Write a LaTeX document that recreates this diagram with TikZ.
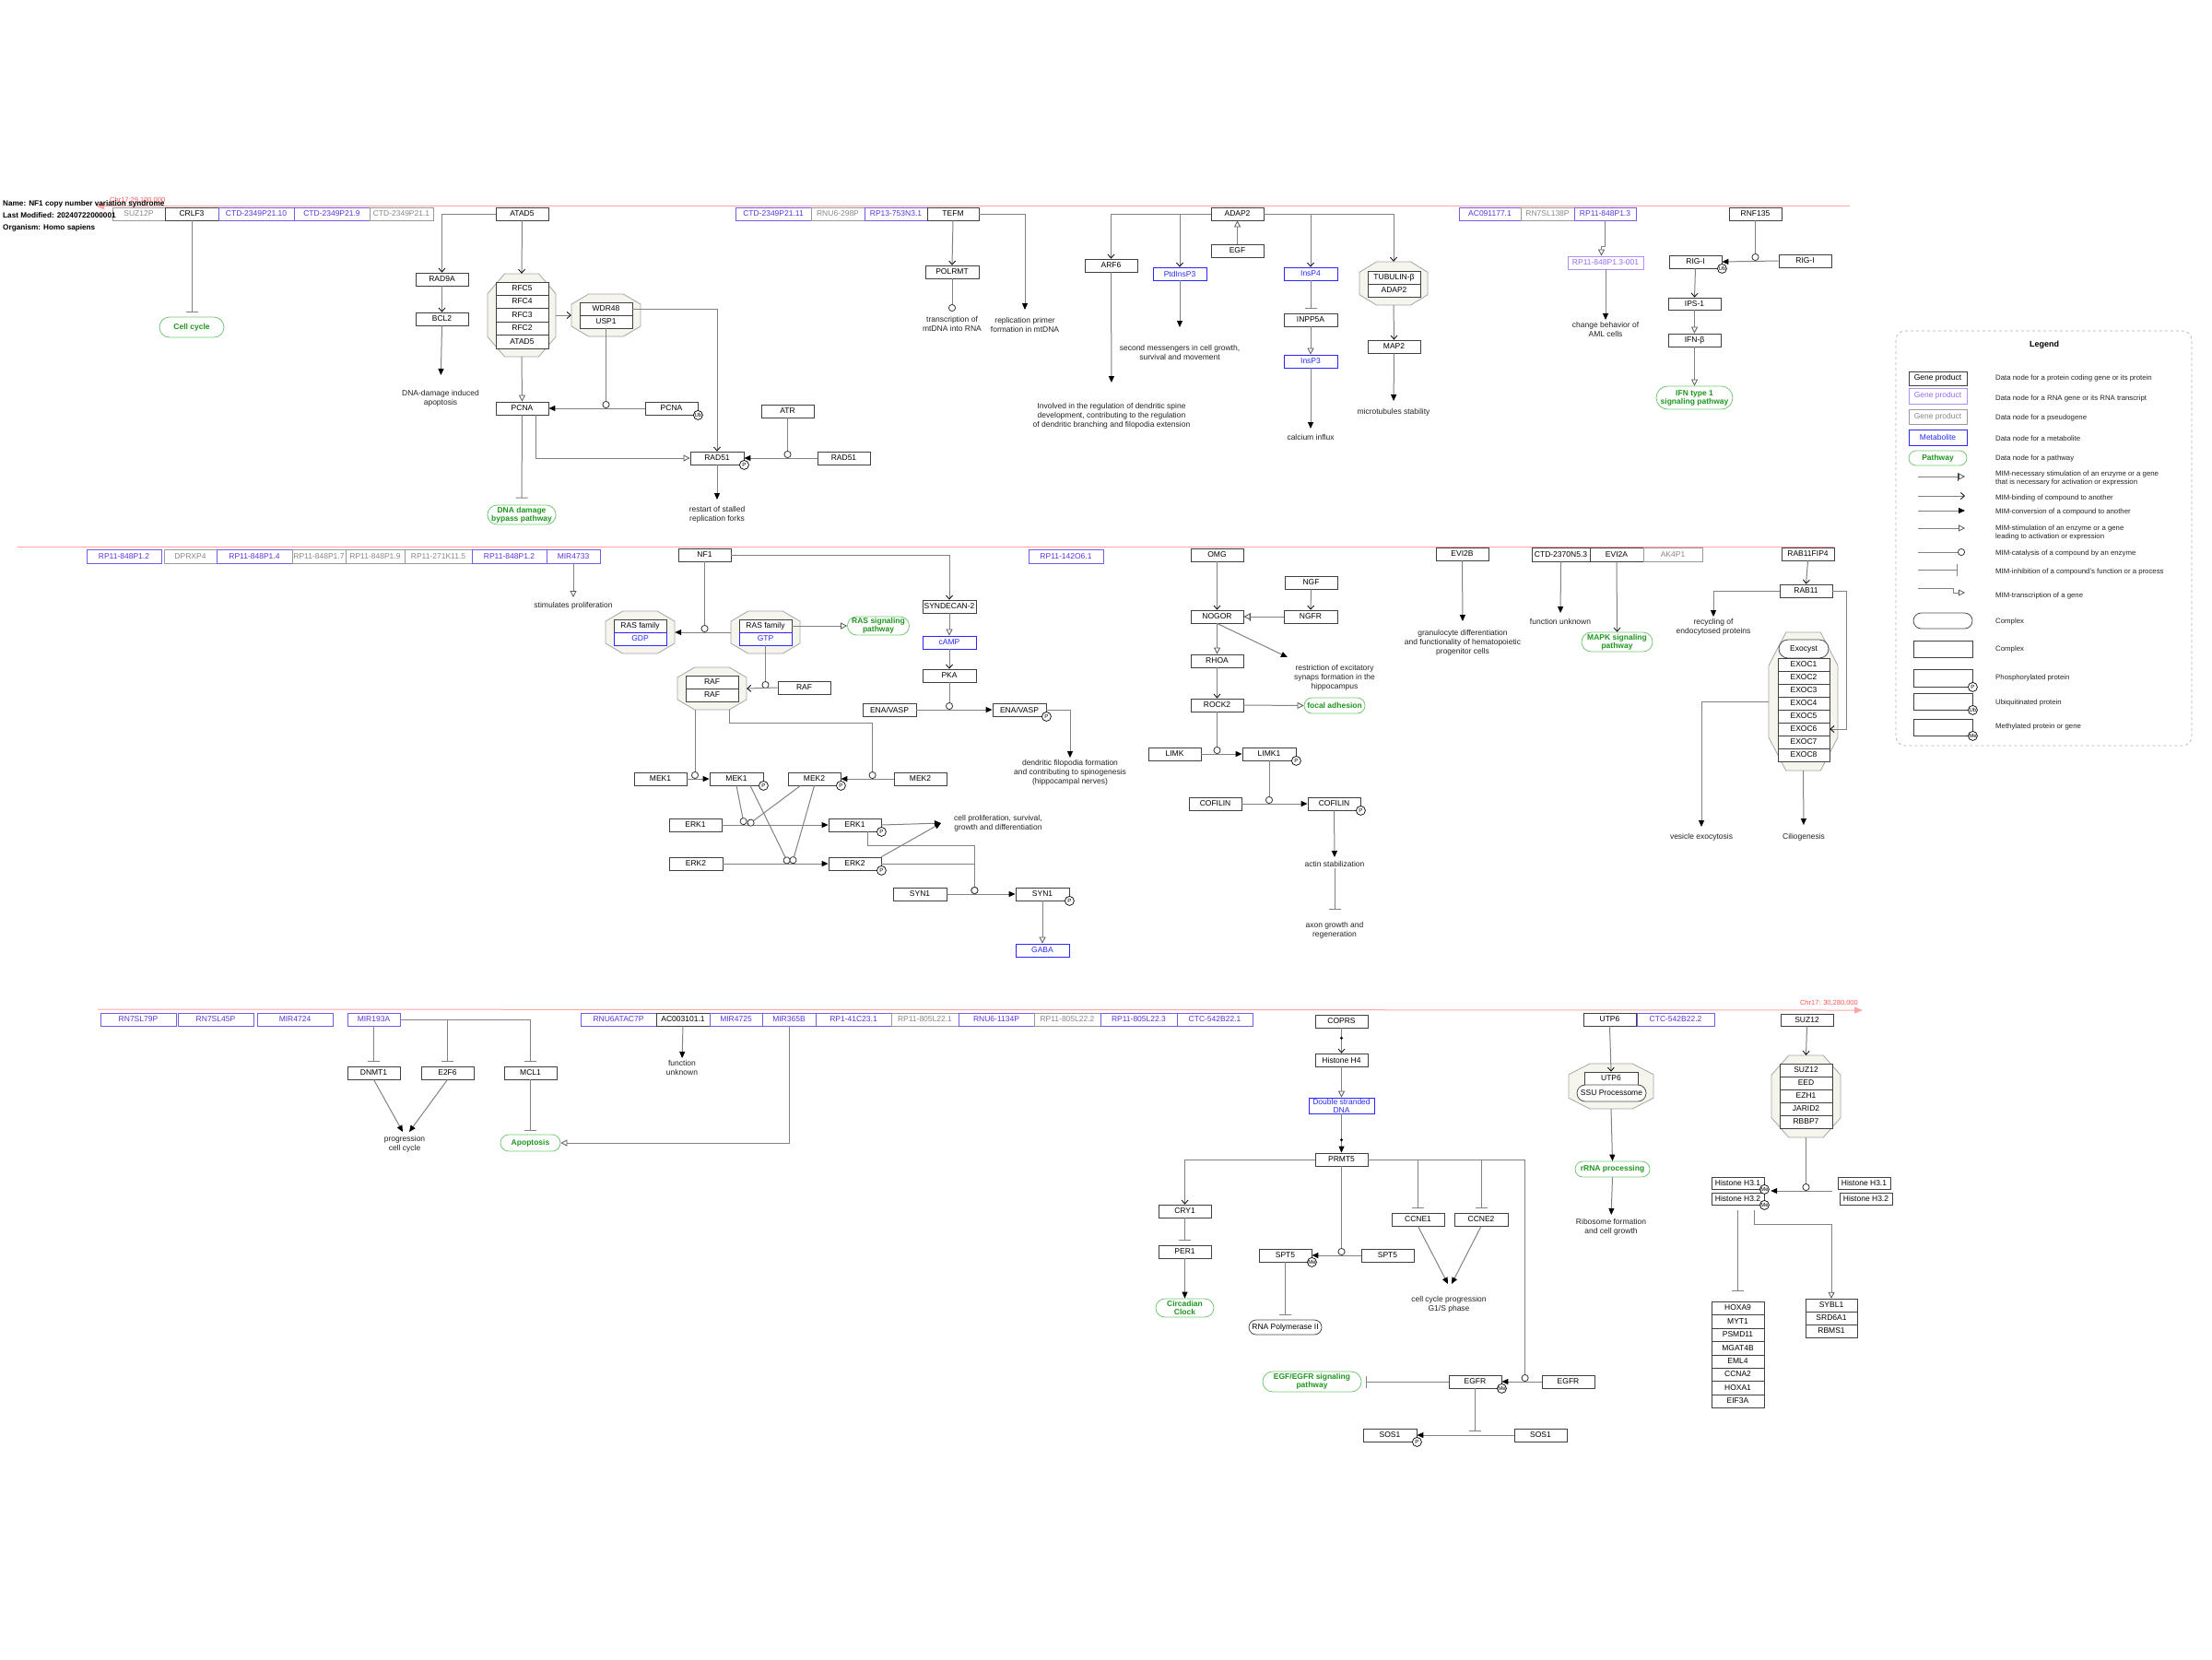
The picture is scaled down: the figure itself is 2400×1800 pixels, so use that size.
\documentclass[tikz,border=0pt]{standalone}
\usepackage{fontspec}
\setmainfont{Liberation Sans}
\usetikzlibrary{arrows.meta,shapes.misc,calc}
\definecolor{linec}{RGB}{130,130,130}
\definecolor{rnac}{RGB}{90,50,225}
\definecolor{rnab}{RGB}{120,90,235}
\definecolor{rnalc}{RGB}{150,105,250}
\definecolor{pseuc}{RGB}{135,135,135}
\definecolor{metc}{RGB}{40,40,255}
\definecolor{pwb}{RGB}{115,200,115}
\definecolor{pwt}{RGB}{30,150,30}
\definecolor{cpxf}{RGB}{245,245,238}
\definecolor{cpxb}{RGB}{165,165,165}
\definecolor{chrc}{RGB}{255,165,165}
\definecolor{chrt}{RGB}{255,85,85}
\definecolor{txc}{RGB}{35,35,35}
\newcommand\fnode{\fontsize{8.5pt}{9pt}\selectfont}
\newcommand\ftext{\fontsize{8.5pt}{10pt}\selectfont}
\newcommand\fpw{\fontsize{8.5pt}{9pt}\selectfont\bfseries}
\newcommand\fmod{\fontsize{6pt}{6pt}\selectfont}
\newcommand\fleg{\fontsize{7.8pt}{9pt}\selectfont}
\newcommand\ftitle{\fontsize{8.2pt}{9pt}\selectfont\bfseries}
\newcommand\fchr{\fontsize{7.5pt}{8pt}\selectfont}
\newcommand\bx[7]{\node[#6,minimum width={(#4-#2)*1pt},minimum height={(#5-#3)*1pt}] (#1) at ({(#2+#4)/2},{(#3+#5)/2}) {#7};}
\newcommand\oct[5]{%
 \pgfmathsetmacro\octx{0.25*(#4-#2)}%
 \pgfmathsetmacro\octy{0.24*(#5-#3)}%
 \draw[cpx] ({#2+\octx},#3) -- ({#4-\octx},#3) -- (#4,{#3+\octy}) -- (#4,{#5-\octy}) -- ({#4-\octx},#5) -- ({#2+\octx},#5) -- (#2,{#5-\octy}) -- (#2,{#3+\octy}) -- cycle;
 \node[inner sep=0pt,minimum width={(#4-#2)*1pt},minimum height={(#5-#3)*1pt}] (#1) at ({(#2+#4)/2},{(#3+#5)/2}) {};}
\newcommand\tx[4]{\node[txt] (#1) at (#2,#3) {#4};}
\newcommand\md[3]{\node[modc] (#1) at (#2) {#3};}
\begin{document}
\begin{tikzpicture}[x=1pt,y=-1pt,
 base/.style={rectangle,inner sep=0pt,font=\fnode,line width=0.8pt,align=center},
 gp/.style={base,draw=black!75,fill=white,text=black},
 rna/.style={base,draw=rnab,fill=white,text=rnac},
 rnal/.style={base,draw=rnalc!75,fill=white,text=rnalc},
 pseu/.style={base,draw=pseuc!85,fill=white,text=pseuc},
 met/.style={base,draw=metc,fill=white,text=metc},
 grp/.style={inner sep=0pt},
 pw/.style={rounded rectangle,inner sep=0pt,draw=pwb,fill=white,text=pwt,font=\fpw,align=center,line width=0.8pt},
 cst/.style={rounded rectangle,inner sep=0pt,draw=black!70,fill=white,font=\fnode,line width=0.8pt},
 cpx/.style={draw=cpxb,fill=cpxf,line width=0.8pt},
 txt/.style={inner sep=0pt,font=\ftext,align=center,text=txc,anchor=north},
 lt/.style={inner sep=0pt,font=\fleg,align=left,text=txc,anchor=west},
 ln/.style={draw=linec,line width=1pt},
 conv/.style={ln,-{Triangle[length=7pt,width=6pt,color=black]}},
 bind/.style={ln,-{Straight Barb[length=4pt,width=7pt,color=black,line width=0.8pt]}},
 stim/.style={ln,-{Triangle[length=7pt,width=7pt,color=black!65,fill=white,line width=0.8pt]}},
 cat/.style={ln,-{Circle[length=8pt,width=8pt,color=black!80,fill=white,line width=0.8pt]}},
 inh/.style={ln,-{Bar[width=13pt,color=linec,line width=1pt]}},
 nec/.style={ln,-{Bar[width=9pt,color=black!70,line width=0.8pt] Triangle[length=7pt,width=7pt,color=black!70,fill=white,line width=0.8pt]}},
 modc/.style={circle,draw=black,fill=white,inner sep=0pt,minimum size=10pt,font=\fmod,line width=0.7pt}]
\fill[white] (0,0) rectangle (2400,1800);
\useasboundingbox (0,0) rectangle (2400,1800);
% chromosome lines
\draw[chrc,line width=1pt] (111,223) -- (2007,223);
\fill[chrc] (104,223.5) -- (113,219.5) -- (113,227.5) -- cycle;
\draw[chrc,line width=1pt] (19,593.5) -- (1990,593.5);
\draw[chrc,line width=1pt,-{Triangle[length=9pt,width=7pt]}] (106,1095) -- (2021,1096);
\node[anchor=west,font=\fchr,text=chrt,inner sep=0pt] (chrA) at (119,217) {Chr17:29,100,000};
\node[anchor=east,font=\fchr,text=chrt,inner sep=0pt] (chrB) at (2016,1088) {Chr17: 30,280,000};
% ===== top row
\bx{tSUZ12P}{122}{225}{179}{239}{pseu}{SUZ12P}
\bx{tCRLF3}{179}{225}{237}{239}{gp}{CRLF3}
\bx{tCTDa}{237}{225}{319}{239}{rna}{CTD-2349P21.10}
\bx{tCTDb}{319}{225}{401}{239}{rna}{CTD-2349P21.9}
\bx{tCTDc}{401}{225}{470}{239}{pseu}{CTD-2349P21.1}
\bx{tATAD5}{538}{225}{595}{239}{gp}{ATAD5}
\bx{tCTDd}{798}{225}{880}{239}{rna}{CTD-2349P21.11}
\bx{tRNU6}{880}{225}{938}{239}{pseu}{RNU6-298P}
\bx{tRP13}{938}{225}{1006}{239}{rna}{RP13-753N3.1}
\bx{tTEFM}{1006}{225}{1062}{239}{gp}{TEFM}
\bx{tADAP2}{1314}{225}{1371}{239}{gp}{ADAP2}
\bx{tAC09}{1583}{225}{1650}{239}{rna}{AC091177.1}
\bx{tRN7SL}{1650}{225}{1708}{239}{pseu}{RN7SL138P}
\bx{tRP11}{1708}{225}{1775}{239}{rna}{RP11-848P1.3}
\bx{RNF135}{1876}{225}{1933}{239}{gp}{RNF135}
% top section
\oct{cRFC}{529}{297}{603}{387}
\bx{RFC5}{538}{306}{595}{320}{gp}{RFC5}
\bx{RFC4}{538}{320}{595}{334}{gp}{RFC4}
\bx{RFC3}{538}{334}{595}{349}{gp}{RFC3}
\bx{RFC2}{538}{349}{595}{363}{gp}{RFC2}
\bx{ATADb}{538}{363}{595}{378}{gp}{ATAD5}
\oct{cWDR}{620}{319}{695}{365}
\bx{WDR48}{629}{328}{686}{342}{gp}{WDR48}
\bx{USP1}{629}{342}{686}{356}{gp}{USP1}
\bx{RAD9A}{451}{296}{508}{310}{gp}{RAD9A}
\bx{BCL2}{451}{339}{508}{353}{gp}{BCL2}
\bx{PCNA}{538}{436}{595}{450}{gp}{PCNA}
\bx{PCNAub}{700}{436}{757}{450}{gp}{PCNA}
\bx{ATR}{826}{439}{883}{453}{gp}{ATR}
\bx{RADa}{749}{490}{807}{504}{gp}{RAD51}
\bx{RADb}{887}{490}{944}{504}{gp}{RAD51}
\bx{POLRMT}{1004}{288}{1062}{302}{gp}{POLRMT}
\bx{ARF6}{1177}{281}{1234}{295}{gp}{ARF6}
\bx{PtdInsP3}{1251}{290}{1309}{304}{met}{PtdInsP3}
\bx{EGF}{1314}{265}{1371}{279}{gp}{EGF}
\bx{InsPa}{1393}{290}{1451}{304}{met}{InsP4}
\bx{INPP5A}{1393}{340}{1451}{354}{gp}{INPP5A}
\bx{InsPb}{1393}{385}{1451}{399}{met}{InsP3}
\oct{cTUB}{1475}{284}{1549}{331}
\bx{TUB}{1484}{294}{1541}{308}{gp}{TUBULIN-β}
\bx{ADAPb}{1484}{308}{1541}{322}{gp}{ADAP2}
\bx{MAP2}{1484}{369}{1541}{383}{gp}{MAP2}
\bx{RP11s}{1701}{278}{1783}{292}{rnal}{RP11-848P1.3-001}
\bx{RIGa}{1811}{277}{1868}{291}{gp}{RIG-I}
\bx{RIGb}{1930}{276}{1987}{290}{gp}{RIG-I}
\bx{IPS}{1810}{323}{1867}{336}{gp}{IPS-1}
\bx{IFNb}{1810}{362}{1867}{376}{gp}{IFN-β}
\bx{pwIFN}{1797}{419}{1880}{444}{pw}{IFN type 1\\signaling pathway}
\bx{pwCell}{173}{344}{243}{366}{pw}{Cell cycle}
\bx{pwDNA}{530}{548}{602}{569}{pw}{DNA damage\\bypass pathway}
\tx{xApop}{478}{423}{DNA-damage induced\\apoptosis}
\tx{xRestart}{778}{549}{restart of stalled\\replication forks}
\tx{xTrans}{1033}{343}{transcription of\\mtDNA into RNA}
\tx{xRepl}{1112}{344}{replication primer\\formation in mtDNA}
\tx{xInv}{1206}{437}{Involved in the regulation of dendritic spine\\development, contributing to the regulation\\of dendritic branching and filopodia extension}
\tx{xSecond}{1280}{374}{second messengers in cell growth,\\survival and movement}
\tx{xCalc}{1422}{471}{calcium influx}
\tx{xMicro}{1512}{443}{microtubules stability}
\tx{xAML}{1742}{349}{change behavior of\\AML cells}
% ===== middle row
\bx{mRPa}{94}{596}{175}{611}{rna}{RP11-848P1.2}
\bx{mDPR}{178}{596}{235}{611}{pseu}{DPRXP4}
\bx{mRPb}{235}{596}{317}{611}{rna}{RP11-848P1.4}
\bx{mRPc}{317}{596}{375}{611}{pseu}{RP11-848P1.7}
\bx{mRPd}{375}{596}{439}{611}{pseu}{RP11-848P1.9}
\bx{mRPe}{439}{596}{512}{611}{pseu}{RP11-271K11.5}
\bx{mRPf}{512}{596}{593}{611}{rna}{RP11-848P1.2}
\bx{MIR4733}{593}{596}{651}{611}{rna}{MIR4733}
\bx{NF1}{736}{595}{793}{609}{gp}{NF1}
\bx{mRPg}{1116}{596}{1197}{611}{rna}{RP11-142O6.1}
\bx{OMG}{1292}{595}{1349}{609}{gp}{OMG}
\bx{EVI2B}{1558}{594}{1615}{608}{gp}{EVI2B}
\bx{CTDe}{1662}{594}{1725}{609}{gp}{CTD-2370N5.3}
\bx{EVI2A}{1725}{594}{1783}{609}{gp}{EVI2A}
\bx{AK4P1}{1783}{594}{1847}{609}{pseu}{AK4P1}
\bx{RABFIP}{1933}{594}{1990}{608}{gp}{RAB11FIP4}
% middle section
\oct{cGDP}{657}{663}{732}{709}
\bx{RASf1}{666}{672}{723}{686}{gp}{RAS family}
\bx{GDP}{666}{686}{723}{700}{met}{GDP}
\oct{cGTP}{793}{663}{868}{709}
\bx{RASf2}{802}{672}{859}{686}{gp}{RAS family}
\bx{GTP}{802}{686}{859}{700}{met}{GTP}
\bx{pwRAS}{921}{669}{985}{689}{pw}{RAS signaling\\pathway}
\oct{cRAF}{735}{724}{810}{770}
\bx{RAF1}{744}{733}{801}{747}{gp}{RAF}
\bx{RAF2}{744}{747}{801}{761}{gp}{RAF}
\bx{RAFb}{844}{739}{901}{753}{gp}{RAF}
\bx{SYND}{1001}{651}{1059}{665}{gp}{SYNDECAN-2}
\bx{cAMP}{1001}{690}{1059}{704}{met}{cAMP}
\bx{PKA}{1001}{726}{1059}{740}{gp}{PKA}
\bx{ENAa}{936}{763}{994}{777}{gp}{ENA/VASP}
\bx{ENAP}{1077}{763}{1135}{777}{gp}{ENA/VASP}
\bx{MEKa}{688}{838}{745}{852}{gp}{MEK1}
\bx{MEKaP}{770}{838}{828}{852}{gp}{MEK1}
\bx{MEKbP}{855}{838}{912}{852}{gp}{MEK2}
\bx{MEKb}{970}{838}{1027}{852}{gp}{MEK2}
\bx{ERKa}{726}{888}{783}{902}{gp}{ERK1}
\bx{ERKaP}{899}{888}{956}{902}{gp}{ERK1}
\bx{ERKb}{726}{930}{784}{944}{gp}{ERK2}
\bx{ERKbP}{899}{930}{956}{944}{gp}{ERK2}
\bx{SYNa}{969}{963}{1027}{977}{gp}{SYN1}
\bx{SYNP}{1102}{963}{1160}{977}{gp}{SYN1}
\bx{GABA}{1102}{1024}{1160}{1038}{met}{GABA}
\bx{NGF}{1394}{625}{1451}{639}{gp}{NGF}
\bx{NGFR}{1393}{662}{1451}{676}{gp}{NGFR}
\bx{NOGOR}{1292}{662}{1349}{676}{gp}{NOGOR}
\bx{RHOA}{1292}{710}{1349}{724}{gp}{RHOA}
\bx{ROCK2}{1292}{758}{1349}{772}{gp}{ROCK2}
\bx{pwFocal}{1415}{757}{1481}{774}{pw}{focal adhesion}
\bx{LIMK}{1246}{811}{1303}{825}{gp}{LIMK}
\bx{LIMKP}{1348}{811}{1406}{825}{gp}{LIMK1}
\bx{COFa}{1290}{865}{1347}{879}{gp}{COFILIN}
\bx{COFP}{1419}{865}{1476}{879}{gp}{COFILIN}
\bx{pwMAPK}{1716}{686}{1793}{707}{pw}{MAPK signaling\\pathway}
\bx{RAB11}{1931}{634}{1988}{648}{gp}{RAB11}
\oct{cEXO}{1919}{686}{1994}{836}
\bx{Exocyst}{1930}{694}{1984}{714}{cst}{Exocyst}
\bx{EXOCa}{1929}{714}{1985}{728}{gp}{EXOC1}
\bx{EXOCb}{1929}{728}{1985}{742}{gp}{EXOC2}
\bx{EXOCc}{1929}{742}{1985}{756}{gp}{EXOC3}
\bx{EXOCd}{1929}{756}{1985}{770}{gp}{EXOC4}
\bx{EXOCe}{1929}{770}{1985}{784}{gp}{EXOC5}
\bx{EXOCf}{1929}{784}{1985}{798}{gp}{EXOC6}
\bx{EXOCg}{1929}{798}{1985}{812}{gp}{EXOC7}
\bx{EXOCh}{1929}{812}{1985}{826}{gp}{EXOC8}
\tx{xStim}{622}{653}{stimulates proliferation}
\tx{xDend}{1161}{824}{dendritic filopodia formation\\and contributing to spinogenesis\\(hippocampal nerves)}
\node[txt,anchor=west] (xProl) at (1035,893) {cell proliferation, survival,\\growth and differentiation};
\tx{xRestr}{1448}{721}{restriction of excitatory\\synaps formation in the\\hippocampus}
\tx{xActin}{1448}{934}{actin stabilization}
\tx{xAxon}{1448}{1000}{axon growth and\\regeneration}
\tx{xGran}{1587}{683}{granulocyte differentiation\\and functionality of hematopoietic\\progenitor cells}
\tx{xFun}{1693}{671}{function unknown}
\tx{xRecyc}{1859}{671}{recycling of\\endocytosed proteins}
\tx{xVes}{1846}{904}{vesicle exocytosis}
\tx{xCilio}{1957}{904}{Ciliogenesis}
% ===== bottom row
\bx{bRNa}{109}{1099}{191}{1113}{rna}{RN7SL79P}
\bx{bRNb}{193}{1099}{275}{1113}{rna}{RN7SL45P}
\bx{bMIRa}{279}{1099}{361}{1113}{rna}{MIR4724}
\bx{MIR193A}{377}{1099}{434}{1113}{rna}{MIR193A}
\bx{bRNU}{630}{1099}{712}{1113}{rna}{RNU6ATAC7P}
\bx{bAC}{712}{1099}{770}{1113}{gp}{AC003101.1}
\bx{bMIRb}{770}{1099}{827}{1113}{rna}{MIR4725}
\bx{MIR365B}{827}{1099}{885}{1113}{rna}{MIR365B}
\bx{bRPa}{885}{1099}{967}{1113}{rna}{RP1-41C23.1}
\bx{bRPb}{967}{1099}{1040}{1113}{pseu}{RP11-805L22.1}
\bx{bRNUb}{1040}{1099}{1122}{1113}{rna}{RNU6-1134P}
\bx{bRPc}{1122}{1099}{1194}{1113}{pseu}{RP11-805L22.2}
\bx{bRPd}{1194}{1099}{1277}{1113}{rna}{RP11-805L22.3}
\bx{bCTCa}{1277}{1099}{1359}{1113}{rna}{CTC-542B22.1}
\bx{COPRS}{1427}{1101}{1484}{1115}{gp}{COPRS}
\bx{UTP6}{1718}{1099}{1775}{1113}{gp}{UTP6}
\bx{bCTCb}{1776}{1099}{1860}{1113}{rna}{CTC-542B22.2}
\bx{SUZ12}{1932}{1100}{1989}{1113}{gp}{SUZ12}
% bottom section
\bx{DNMT1}{377}{1157}{434}{1171}{gp}{DNMT1}
\bx{E2F6}{457}{1157}{514}{1171}{gp}{E2F6}
\bx{MCL1}{547}{1157}{604}{1171}{gp}{MCL1}
\bx{pwApop}{543}{1231}{608}{1249}{pw}{Apoptosis}
\bx{HisH4}{1427}{1143}{1484}{1157}{gp}{Histone H4}
\bx{DSD}{1420}{1191}{1491}{1208}{met}{Double stranded\\DNA}
\bx{PRMT5}{1427}{1251}{1484}{1265}{gp}{PRMT5}
\bx{CRY1}{1257}{1307}{1314}{1321}{gp}{CRY1}
\bx{PER1}{1257}{1351}{1314}{1365}{gp}{PER1}
\bx{pwCirc}{1254}{1409}{1317}{1429}{pw}{Circadian\\Clock}
\bx{SPTMe}{1366}{1355}{1423}{1369}{gp}{SPT5}
\bx{SPTb}{1477}{1355}{1534}{1369}{gp}{SPT5}
\bx{RNAPII}{1355}{1432}{1434}{1448}{cst}{RNA Polymerase II}
\bx{CCNE1}{1510}{1316}{1567}{1330}{gp}{CCNE1}
\bx{CCNE2}{1578}{1316}{1636}{1330}{gp}{CCNE2}
\bx{EGFRMe}{1572}{1492}{1629}{1506}{gp}{EGFR}
\bx{EGFRb}{1673}{1492}{1730}{1506}{gp}{EGFR}
\bx{pwEGFR}{1370}{1488}{1477}{1510}{pw}{EGF/EGFR signaling\\pathway}
\bx{SOSP}{1479}{1550}{1537}{1564}{gp}{SOS1}
\bx{SOSb}{1643}{1550}{1700}{1564}{gp}{SOS1}
\oct{cUTP}{1702}{1154}{1794}{1203}
\bx{UTPin}{1719}{1163}{1777}{1177}{gp}{UTP6}
\bx{SSU}{1711}{1177}{1786}{1195}{cst}{SSU Processome}
\bx{pwRRNA}{1709}{1260}{1790}{1277}{pw}{rRNA processing}
\oct{cSUZ}{1922}{1145}{1997}{1234}
\bx{SUZb}{1931}{1154}{1988}{1168}{gp}{SUZ12}
\bx{EED}{1931}{1168}{1988}{1182}{gp}{EED}
\bx{EZH1}{1931}{1182}{1988}{1196}{gp}{EZH1}
\bx{JARID2}{1931}{1196}{1988}{1210}{gp}{JARID2}
\bx{RBBP7}{1931}{1210}{1988}{1224}{gp}{RBBP7}
\bx{HLa}{1857}{1277}{1914}{1290}{gp}{Histone H3.1}
\bx{HLb}{1857}{1294}{1914}{1307}{gp}{Histone H3.2}
\bx{HRa}{1994}{1277}{2051}{1290}{gp}{Histone H3.1}
\bx{HRb}{1996}{1294}{2053}{1307}{gp}{Histone H3.2}
\bx{H3L}{1857}{1277}{1914}{1307}{grp}{}
\bx{H3R}{1994}{1277}{2053}{1307}{grp}{}
\bx{HOXa}{1857}{1412}{1914}{1426}{gp}{HOXA9}
\bx{HOXb}{1857}{1426}{1914}{1441}{gp}{MYT1}
\bx{HOXc}{1857}{1441}{1914}{1455}{gp}{PSMD11}
\bx{HOXd}{1857}{1455}{1914}{1470}{gp}{MGAT4B}
\bx{HOXe}{1857}{1470}{1914}{1484}{gp}{EML4}
\bx{HOXf}{1857}{1484}{1914}{1498}{gp}{CCNA2}
\bx{HOXg}{1857}{1498}{1914}{1513}{gp}{HOXA1}
\bx{HOXh}{1857}{1513}{1914}{1527}{gp}{EIF3A}
\bx{HOXgrp}{1857}{1412}{1914}{1527}{grp}{}
\bx{SYBa}{1959}{1409}{2015}{1423}{gp}{SYBL1}
\bx{SYBb}{1959}{1423}{2015}{1437}{gp}{SRD6A1}
\bx{SYBc}{1959}{1437}{2015}{1451}{gp}{RBMS1}
\bx{SYBgrp}{1959}{1409}{2015}{1451}{grp}{}
\tx{xProg}{439}{1232}{progression\\cell cycle}
\tx{xFunb}{740}{1150}{function\\unknown}
\tx{xG1S}{1572}{1406}{cell cycle progression\\G1/S phase}
\tx{xRibo}{1748}{1322}{Ribosome formation\\and cell growth}
% ===== connectors top
\draw[inh,shorten >=5pt] (tCRLF3.south) -- (pwCell.north);
\draw[bind] (tATAD5.west) -| (RAD9A.north);
\draw[bind] (RAD9A.south) -- (BCL2.north);
\draw[conv,shorten >=16pt] (BCL2.south) -- (xApop.north);
\draw[bind] (tATAD5.south) -- (cRFC.north);
\draw[stim] (cRFC.south) -- (PCNA.north);
\draw[inh,shorten >=7pt] (PCNA.south) -- (pwDNA.north);
\draw[stim] ([xshift=15pt]PCNA.south) |- (RADa.west);
\draw[bind] (cRFC.east) -- (cWDR.west);
\draw[bind] (WDR48.east) -| (RADa.north);
\draw[conv] (PCNAub.west) -- (PCNA.east);
\draw[cat] (USP1.south) -- (USP1.south |- PCNA.east);
\draw[cat] (ATR.south) -- (ATR.south |- RADb.west);
\draw[conv] (RADb.west) -- (RADa.east);
\draw[conv,shorten >=7pt] (RADa.south) -- (xRestart.north);
\draw[bind] (tTEFM.south) -- (POLRMT.north);
\draw[cat,shorten >=5pt] (POLRMT.south) -- (xTrans.north);
\draw[conv,shorten >=8pt] (tTEFM.east) -| (xRepl.north);
\draw[bind] (tADAP2.west) -| (ARF6.north);
\draw[bind] (tADAP2.west) -| (PtdInsP3.north);
\draw[stim] (EGF.north) -- (tADAP2.south);
\draw[bind] (tADAP2.east) -| (InsPa.north);
\draw[bind] (tADAP2.east) -| (cTUB.north);
\draw[conv,shorten >=22pt] (ARF6.south) -- (xInv.north);
\draw[conv,shorten >=19pt] (PtdInsP3.south) -- (xSecond.north);
\draw[inh,shorten >=5pt] (InsPa.south) -- (INPP5A.north);
\draw[stim] (INPP5A.south) -- (InsPb.north);
\draw[conv,shorten >=6pt] (InsPb.south) -- (xCalc.north);
\draw[bind] (cTUB.south) -- (MAP2.north);
\draw[conv,shorten >=8pt] (MAP2.south) -- (xMicro.north);
\draw[ln] (tRP11.south) -- ++(0,28) -- ++(-4,0);
\draw[stim] ([shift={(-4,28)}]tRP11.south) -- ([xshift=-4.5pt]RP11s.north);
\draw[conv,shorten >=2pt] (RP11s.south) -- (xAML.north);
\draw[cat] (RNF135.south) -- (RNF135.south |- RIGb.west);
\draw[conv] (RIGb.west) -- (RIGa.east);
\draw[bind] (RIGa.south) -- (IPS.north);
\draw[stim] (IPS.south) -- (IFNb.north);
\draw[stim] (IFNb.south) -- (pwIFN.north);
% ===== connectors middle
\draw[stim,shorten >=5pt] (MIR4733.south) -- (xStim.north);
\draw[bind] (NF1.east) -| (SYND.north);
\draw[cat] (NF1.south) -- (NF1.south |- cGDP.east);
\draw[conv] (cGTP.west) -- (cGDP.east);
\draw[stim] (RASf2.east) -- (pwRAS.west);
\draw[cat] (GTP.south) -- (GTP.south |- cRAF.east);
\draw[bind] (RAFb.west) -- (cRAF.east);
\coordinate (kRa) at ([xshift=-18.5pt]cRAF.south);
\coordinate (kRb) at ([xshift=18.5pt]cRAF.south);
\coordinate (kMb) at ([xshift=-23pt]MEKb.west);
\draw[cat] (kRa) -- (kRa |- MEKa.east);
\draw[cat] (kRb) -- ++(0,14) -| (kMb);
\draw[conv] (MEKa.east) -- (MEKaP.west);
\draw[conv] (MEKb.west) -- (MEKbP.east);
\draw[conv] (ERKa.east) -- (ERKaP.west);
\draw[conv] (ERKb.east) -- (ERKbP.west);
\coordinate (kEa) at ([xshift=24pt]ERKa.east);
\coordinate (kEb) at ([xshift=28pt]ERKa.east);
\coordinate (kEc) at ([xshift=71pt]ERKb.east);
\coordinate (kEd) at ([xshift=75pt]ERKb.east);
\draw[cat] (MEKaP.south) -- (kEa);
\draw[cat] ([xshift=15pt]MEKaP.south) -- (kEc);
\draw[cat] ([xshift=-15pt]MEKbP.south) -- (kEb);
\draw[cat] (MEKbP.south) -- (kEd);
\coordinate (kProl) at ([xshift=-14pt]xProl.west);
\draw[conv] (ERKaP.east) -- (kProl);
\draw[conv] (ERKbP.north east) -- (kProl);
\coordinate (kSyn) at ([xshift=30pt]SYNa.east);
\draw[cat] ([xshift=14pt]ERKaP.south) -- ++(0,15) -| (kSyn);
\draw[cat] (ERKbP.east) -| (kSyn);
\draw[conv] (SYNa.east) -- (SYNP.west);
\draw[stim] (SYNP.south) -- (GABA.north);
\draw[stim] (SYND.south) -- (cAMP.north);
\draw[bind] (cAMP.south) -- (PKA.north);
\draw[cat] (PKA.south) -- (PKA.south |- ENAa.east);
\draw[conv] (ENAa.east) -- (ENAP.west);
\draw[conv,shorten >=2pt] (ENAP.east) -| (xDend.north);
\draw[bind] (OMG.south) -- (NOGOR.north);
\draw[bind] (NGF.south) -- (NGFR.north);
\draw[nec] (NGFR.west) -- (NOGOR.east);
\draw[stim] (NOGOR.south) -- (RHOA.north);
\draw[conv] (NOGOR.south) -- ([shift={(-7,-8)}]xRestr.north west);
\draw[bind] (RHOA.south) -- (ROCK2.north);
\draw[stim] (ROCK2.east) -- (pwFocal.west);
\draw[cat] (ROCK2.south) -- (ROCK2.south |- LIMK.east);
\draw[conv] (LIMK.east) -- (LIMKP.west);
\draw[cat] (LIMKP.south) -- (LIMKP.south |- COFa.east);
\draw[conv] (COFa.east) -- (COFP.west);
\draw[conv,shorten >=4pt] (COFP.south) -- (xActin.north);
\draw[inh,shorten <=1pt,shorten >=13pt] (xActin.south) -- (xAxon.north);
\draw[conv,shorten >=9pt] (EVI2B.south) -- (xGran.north);
\draw[conv,shorten >=6pt] (CTDe.south) -- (xFun.north);
\draw[bind] (EVI2A.south) -- (pwMAPK.north);
\draw[bind] (RABFIP.south) -- (RAB11.north);
\draw[conv,shorten >=2pt] (RAB11.west) -| (xRecyc.north);
\draw[bind] (RAB11.east) -- ++(15,0) |- (EXOCf.east);
\draw[conv,shorten >=7pt] (cEXO.west) -| (xVes.north);
\draw[conv,shorten >=9pt] (cEXO.south) -- (xCilio.north);
% ===== connectors bottom
\draw[inh,shorten >=5pt] (MIR193A.south) -- (DNMT1.north);
\draw[inh,shorten >=5pt] (MIR193A.east) -| (E2F6.north);
\draw[inh,shorten >=5pt] (MIR193A.east) -| (MCL1.north);
\draw[conv] (DNMT1.south) -- ([shift={(-2,-4)}]xProg.north);
\draw[conv] (E2F6.south) -- ([shift={(5,-4)}]xProg.north);
\draw[inh,shorten >=4pt] (MCL1.south) -- (pwApop.north);
\draw[stim] (MIR365B.south) |- (pwApop.east);
\draw[conv,shorten >=2pt] (bAC.south) -- (xFunb.north);
\draw[bind] (COPRS.south) -- (HisH4.north);
\fill[black] ($(COPRS.south)!0.4!(HisH4.north)$) circle (1.6);
\draw[stim] (HisH4.south) -- (DSD.north);
\draw[conv] (DSD.south) -- (PRMT5.north);
\fill[black] ($(DSD.south)!0.67!(PRMT5.north)$) circle (1.6);
\draw[bind] (PRMT5.west) -| (CRY1.north);
\draw[inh,shorten >=5pt] (CRY1.south) -- (PER1.north);
\draw[conv] (PER1.south) -- (pwCirc.north);
\draw[cat] (PRMT5.south) -- (PRMT5.south |- SPTb.west);
\draw[conv] (SPTb.west) -- (SPTMe.east);
\draw[inh,shorten >=5pt] (SPTMe.south) -- (RNAPII.north);
\draw[inh,shorten >=5pt] (PRMT5.east) -| (CCNE1.north);
\draw[inh,shorten >=5pt] (PRMT5.east) -| (CCNE2.north);
\draw[conv] (CCNE1.south) -- ([shift={(-1,-13)}]xG1S.north);
\draw[conv] (CCNE2.south) -- ([shift={(3,-13)}]xG1S.north);
\coordinate (kEG) at ([xshift=-18pt]EGFRb.west);
\draw[cat] (PRMT5.east) -| (kEG);
\draw[conv] (EGFRb.west) -- (EGFRMe.east);
\draw[inh,shorten >=5pt] (EGFRMe.west) -- (pwEGFR.east);
\draw[inh,shorten >=4pt] (EGFRMe.south) -- (EGFRMe.south |- SOSb.west);
\draw[conv] (SOSb.west) -- (SOSP.east);
\draw[bind] (UTP6.south) -- (UTPin.north);
\draw[conv] (cUTP.south) -- (pwRRNA.north);
\draw[conv,shorten >=4pt] (pwRRNA.south) -- (xRibo.north);
\draw[bind] (SUZ12.south) -- (cSUZ.north);
\draw[cat] (cSUZ.south) -- (cSUZ.south |- H3L.east);
\draw[conv] ([xshift=-6pt]H3R.west) -- ([xshift=7pt]H3L.east);
\draw[inh,shorten >=11pt] ([yshift=-6pt]H3L.south) -- (HOXgrp.north);
\draw[stim] ([xshift=18pt,yshift=-6pt]H3L.south) -- ++(0,15) -| (SYBgrp.north);
% ===== modification marks
\md{mA}{PCNAub.south east}{Ub}
\md{mB}{RADa.south east}{P}
\md{mC}{RIGa.south east}{Ub}
\md{mD}{MEKaP.south east}{P}
\md{mE}{MEKbP.south east}{P}
\md{mF}{ERKaP.south east}{P}
\md{mG}{ERKbP.south east}{P}
\md{mH}{SYNP.south east}{P}
\md{mI}{ENAP.south east}{P}
\md{mJ}{LIMKP.south east}{P}
\md{mK}{COFP.south east}{P}
\md{mL}{SPTMe.south east}{Me}
\md{mM}{EGFRMe.south east}{Me}
\md{mN}{SOSP.south east}{P}
\md{mO}{HLa.south east}{Me}
\md{mP}{HLb.south east}{Me}
% ===== legend
\draw[black!30,dashed,rounded corners=10pt,line width=0.7pt] (2057,359) rectangle (2378,809);
\node[font=\bfseries\fontsize{9pt}{10pt}\selectfont,inner sep=0pt] (legT) at (2218,374) {Legend};
\bx{lgA}{2071}{403}{2134}{418}{gp}{Gene product}
\bx{lgB}{2071}{421}{2134}{438}{rnal}{Gene product}
\bx{lgC}{2071}{444}{2134}{460}{pseu}{Gene product}
\bx{lgD}{2071}{466}{2134}{483}{met}{Metabolite}
\bx{lgE}{2071}{489}{2134}{505}{pw}{Pathway}
\coordinate (laA) at (2081,517); \coordinate (lbA) at (2132,517);
\coordinate (laB) at (2081,538); \coordinate (lbB) at (2132,538);
\coordinate (laC) at (2081,554); \coordinate (lbC) at (2132,554);
\coordinate (laD) at (2081,573); \coordinate (lbD) at (2132,573);
\coordinate (laE) at (2081,599); \coordinate (lbE) at (2132,599);
\coordinate (laF) at (2081,618); \coordinate (lbF) at (2124,618);
\coordinate (laG) at (2081,638); \coordinate (lmG) at (2119,643); \coordinate (lbG) at (2132,643);
\draw[nec] (laA) -- (lbA);
\draw[bind] (laB) -- (lbB);
\draw[conv] (laC) -- (lbC);
\draw[stim] (laD) -- (lbD);
\draw[cat] (laE) -- (lbE);
\draw[inh] (laF) -- (lbF);
\draw[ln] (laG) -| (lmG);
\draw[stim] (lmG) -- (lbG);
\bx{lgF}{2076}{665}{2140}{682}{cst}{}
\bx{lgG}{2076}{695}{2140}{713}{gp}{}
\bx{lgH}{2076}{726}{2140}{745}{gp}{}
\bx{lgI}{2076}{752}{2140}{770}{gp}{}
\bx{lgJ}{2076}{780}{2140}{798}{gp}{}
\md{mQ}{lgH.south east}{P}
\md{mR}{lgI.south east}{Ub}
\md{mS}{lgJ.south east}{Me}
\node[lt] (ltA) at (2165,410) {Data node for a protein coding gene or its protein};
\node[lt] (ltB) at (2165,432) {Data node for a RNA gene or its RNA transcript};
\node[lt] (ltC) at (2165,453) {Data node for a pseudogene};
\node[lt] (ltD) at (2165,476) {Data node for a metabolite};
\node[lt] (ltE) at (2165,497) {Data node for a pathway};
\node[lt] (ltF) at (2165,518.5) {MIM-necessary stimulation of an enzyme or a gene\\that is necessary for activation or expression};
\node[lt] (ltG) at (2165,540) {MIM-binding of compound to another};
\node[lt] (ltH) at (2165,555) {MIM-conversion of a compound to another};
\node[lt] (ltI) at (2165,578) {MIM-stimulation of an enzyme or a gene\\leading to activation or expression};
\node[lt] (ltJ) at (2165,600) {MIM-catalysis of a compound by an enzyme};
\node[lt] (ltK) at (2165,620) {MIM-inhibition of a compound's function or a process};
\node[lt] (ltL) at (2165,646) {MIM-transcription of a gene};
\node[lt] (ltM) at (2165,674) {Complex};
\node[lt] (ltN) at (2165,704) {Complex};
\node[lt] (ltO) at (2165,735) {Phosphorylated protein};
\node[lt] (ltP) at (2165,762) {Ubiquitinated protein};
\node[lt] (ltQ) at (2165,788) {Methylated protein or gene};
% title (drawn on top)
\node[anchor=west,font=\ftitle,inner sep=0pt] (title1) at (3,221) {Name: NF1 copy number variation syndrome};
\node[anchor=west,font=\ftitle,inner sep=0pt] (title2) at (3,234) {Last Modified: 20240722000001};
\node[anchor=west,font=\ftitle,inner sep=0pt] (title3) at (3,247) {Organism: Homo sapiens};
\end{tikzpicture}
\end{document}
